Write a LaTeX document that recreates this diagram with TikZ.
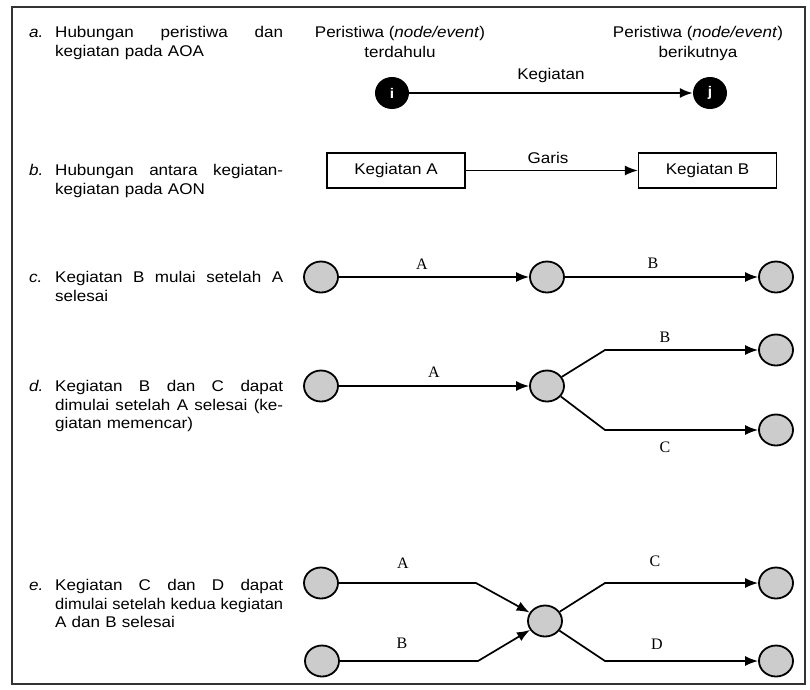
\documentclass[tikz,border=0pt]{standalone}
\usepackage{fontspec}
\usepackage{graphicx}
\setmainfont{Liberation Sans}[FakeStretch=1.1]
\newfontfamily\edgefont{Liberation Serif}
\usetikzlibrary{arrows.meta,shapes.geometric}
\newcommand\jl[1]{\leavevmode\hbox to 228pt{\spaceskip=0.28em plus 1fil\relax #1}}
\newcommand\fitl[1]{\leavevmode\resizebox{228pt}{\height}{#1}}
\tikzset{
  ev/.style={ellipse, draw, line width=1.8pt, fill=gray!40, minimum width=34pt, minimum height=31pt, inner sep=0pt},
  blk/.style={ellipse, fill=black, minimum width=34pt, minimum height=32pt, inner sep=0pt, text=white, font=\bfseries\fontsize{14}{14}\selectfont},
  act/.style={rectangle, draw, line width=1.4pt, minimum width=138pt, minimum height=35pt, inner sep=0pt, font=\fontsize{15.5}{18}\selectfont},
  arr/.style={line width=1.7pt, -{Latex[length=13pt,width=10pt]}},
  elab/.style={font=\edgefont\fontsize{16}{16}\selectfont, inner sep=0pt},
  slab/.style={font=\fontsize{15.5}{18}\selectfont, inner sep=0pt},
  item/.style={anchor=base west, text width=228pt, inner sep=0pt, align=left, font=\fontsize{15.5}{18.5}\selectfont},
  tag/.style={anchor=base west, inner sep=0pt, font=\itshape\fontsize{15.5}{18.5}\selectfont},
  head/.style={anchor=base, align=center, inner sep=0pt, font=\fontsize{15.5}{20}\selectfont}
}
\begin{document}
\begin{tikzpicture}[x=1pt,y=-1pt]
\useasboundingbox (0,0) rectangle (810,689);
\draw[line width=1.2pt, black!80] (12,7) rectangle (805,684);

% a
\node[tag] (ta) at (29,37.5) {a.};
\node[item] (xa) at (55,37.5) {\jl{Hubungan peristiwa dan}\\kegiatan pada AOA};
\node[head] (h1) at (400,57.5) {Peristiwa (\textit{node/event})\\terdahulu};
\node[head] (h2) at (698,57.5) {Peristiwa (\textit{node/event})\\berikutnya};
\node[blk] (i) at (392,93) {i};
\node[blk] (j) at (710,93) {j};
\draw[arr, line width=2pt] (i) -- (j) node[slab, midway, above=9pt] (kg) {Kegiatan};

% b
\node[tag] (tb) at (29,175.5) {b.};
\node[item] (xb) at (55,175.5) {\jl{Hubungan antara kegiatan-}\\kegiatan pada AON};
\node[act] (ka) at (396,170.5) {Kegiatan A};
\node[act] (kb) at (707.5,170.5) {Kegiatan B};
\draw[arr, line width=1.3pt] (ka) -- (kb);
\node[slab] (gr) at (548,158) {Garis};

% c
\node[tag] (tc) at (29,282.5) {c.};
\node[item] (xc) at (55,282.5) {\jl{Kegiatan B mulai setelah A}\\selesai};
\node[ev] (c1) at (321,277) {};
\node[ev] (c2) at (547,277) {};
\node[ev] (c3) at (776,277) {};
\draw[arr] (c1) -- (c2);
\draw[arr] (c2) -- (c3);
\node[elab] (lca) at (422,264) {A};
\node[elab] (lcb) at (653,263) {B};

% d
\node[tag] (td) at (29,391.5) {d.};
\node[item] (xd) at (55,391.5) {\jl{Kegiatan B dan C dapat}\\\jl{dimulai setelah A selesai (ke-}\\giatan memencar)};
\node[ev] (d1) at (321,386) {};
\node[ev] (d2) at (547,386) {};
\node[ev] (d3) at (776,350) {};
\node[ev] (d4) at (776,430) {};
\coordinate (db) at (605,350);
\coordinate (dc) at (605,430);
\draw[arr] (d1) -- (d2);
\draw[arr] (d2) -- (db) -- (d3);
\draw[arr] (d2) -- (dc) -- (d4);
\node[elab] (lda) at (434,372) {A};
\node[elab] (ldb) at (665,337) {B};
\node[elab] (ldc) at (665,447) {C};

% e
\node[tag] (te) at (29,590.5) {e.};
\node[item] (xe) at (55,590.5) {\jl{Kegiatan C dan D dapat}\\\fitl{dimulai setelah kedua kegiatan}\\A dan B selesai};
\node[ev] (e1) at (321,583) {};
\node[ev] (e2) at (322,661) {};
\node[ev] (e3) at (545,621) {};
\node[ev] (e4) at (776,583) {};
\node[ev] (e5) at (776,661) {};
\coordinate (ea) at (476,583);
\coordinate (eb) at (478,661);
\coordinate (ec) at (605,583);
\coordinate (ed) at (605,661);
\draw[arr] (e1) -- (ea) -- (e3);
\draw[arr] (e2) -- (eb) -- (e3);
\draw[arr] (e3) -- (ec) -- (e4);
\draw[arr] (e3) -- (ed) -- (e5);
\node[elab] (lea) at (403,563) {A};
\node[elab] (leb) at (402,643) {B};
\node[elab] (lec) at (655,561) {C};
\node[elab] (led) at (657,644) {D};
\end{tikzpicture}
\end{document}
